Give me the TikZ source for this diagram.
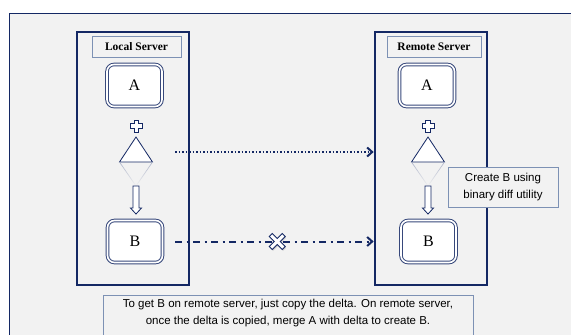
\documentclass[tikz,border=0pt]{standalone}
\usepackage{fontspec}
\setmainfont{Liberation Serif}
\setsansfont{Liberation Sans}
\usetikzlibrary{arrows.meta,shadows,fadings}
\definecolor{navy}{RGB}{20,40,100}
\definecolor{edge}{RGB}{125,145,180}
\definecolor{paper}{RGB}{242,242,242}
\tikzset{
  server/.style={draw=navy, line width=2.7pt, minimum width=112pt, minimum height=253pt, inner sep=0pt},
  titlebox/.style={draw=edge, line width=0.7pt, fill=paper, minimum height=21pt, inner sep=0pt,
    font=\fontsize{11.5}{13}\selectfont\bfseries},
  filebox/.style={draw=navy!85, double=white, double distance=1.6pt, line width=1pt,
    rounded corners=7pt, fill=white, minimum width=55pt, minimum height=42pt, inner sep=0pt,
    font=\fontsize{16}{18}\selectfont,
    drop shadow={opacity=0.18, shadow xshift=0.4pt, shadow yshift=-1.4pt}},
  note/.style={draw=edge, line width=0.7pt, fill=paper, inner sep=0pt, align=center,
    font=\sffamily\fontsize{11.5}{16.5}\selectfont},
  outlined/.style={draw=navy, line width=0.8pt, fill=white, line join=miter},
  copyline/.style={navy, line width=2pt, -{Straight Barb[length=5pt,width=9pt,line width=2pt]}},
  plus/.pic={
    \path[outlined] (-2.2,-6) -- (2.2,-6) -- (2.2,-2.2) -- (6,-2.2) -- (6,2.2) -- (2.2,2.2)
      -- (2.2,6) -- (-2.2,6) -- (-2.2,2.2) -- (-6,2.2) -- (-6,-2.2) -- (-2.2,-2.2) -- cycle;
  },
  delta/.pic={
    \path[outlined] (0,0) -- (16.5,25) -- (-16.5,25) -- cycle;
    \draw[navy!35, line width=0.7pt, path fading=south] (-16.5,25) -- (0,49) -- (16.5,25);
    \path[outlined] (-3,49) -- (3,49) -- (3,71) -- (5.5,71) -- (0,77) -- (-5.5,71) -- (-3,71) -- cycle;
  },
}
\begin{document}
\begin{tikzpicture}[x=1pt,y=-1pt]
\useasboundingbox (0,0) rectangle (571,335);
\fill[white] (0,0) rectangle (571,335);
\fill[paper] (9,13) rectangle (571,335);
\draw[navy, line width=1pt] (9,336) |- (572,13);

% local side
\node[server] (local) at (133,158.5) {};
\node[titlebox, minimum width=89pt] (ltitle) at (136.5,46.5) {Local Server};
\node[filebox] (lA) at (134.5,85.5) {A};
\pic at (136.5,126) {plus};
\pic at (136,137) {delta};
\node[filebox] (lB) at (135,241.5) {B};

% remote side
\node[server] (remote) at (431,158.5) {};
\node[titlebox, minimum width=94pt] (rtitle) at (434,46.5) {Remote Server};
\node[filebox] (rA) at (427,85.5) {A};
\pic at (428,126) {plus};
\pic at (428,137) {delta};
\node[filebox] (rB) at (428.5,241.5) {B};

% copy paths
\coordinate (dstart) at (175,152);
\draw[copyline, dash pattern=on 1.6pt off 1.9pt] (dstart) -- (remote.west |- dstart);
\draw[copyline, dash pattern=on 7pt off 4.5pt on 2pt off 4.5pt]
  ([xshift=12pt]lB.east) -- (remote.west |- lB.east)
  node[pos=0.515, sloped] (nocopy) {};
\path[outlined, line width=0.9pt, drop shadow={shadow xshift=0.8pt, shadow yshift=-1.2pt, opacity=0.35}]
  (nocopy.center) ++(0,-3) -- ++(5,-5) -- ++(3,3) -- ++(-5,5) -- ++(5,5) -- ++(-3,3)
  -- ++(-5,-5) -- ++(-5,5) -- ++(-3,-3) -- ++(5,-5) -- ++(-5,-5) -- ++(3,-3) -- cycle;

% notes
\node[note, minimum width=110pt, minimum height=40pt] (utility) at (503,187)
  {Create B using\\binary diff utility};
\draw[edge, line width=0.7pt, fill=paper] (103,345) |- (473,295) -- (473,345);
\node[note, draw=none, fill=none] (summary) at (288,313)
  {To get B on remote server, just copy the delta. On remote server,\\
   once the delta is copied, merge A with delta to create B.};
\end{tikzpicture}
\end{document}
